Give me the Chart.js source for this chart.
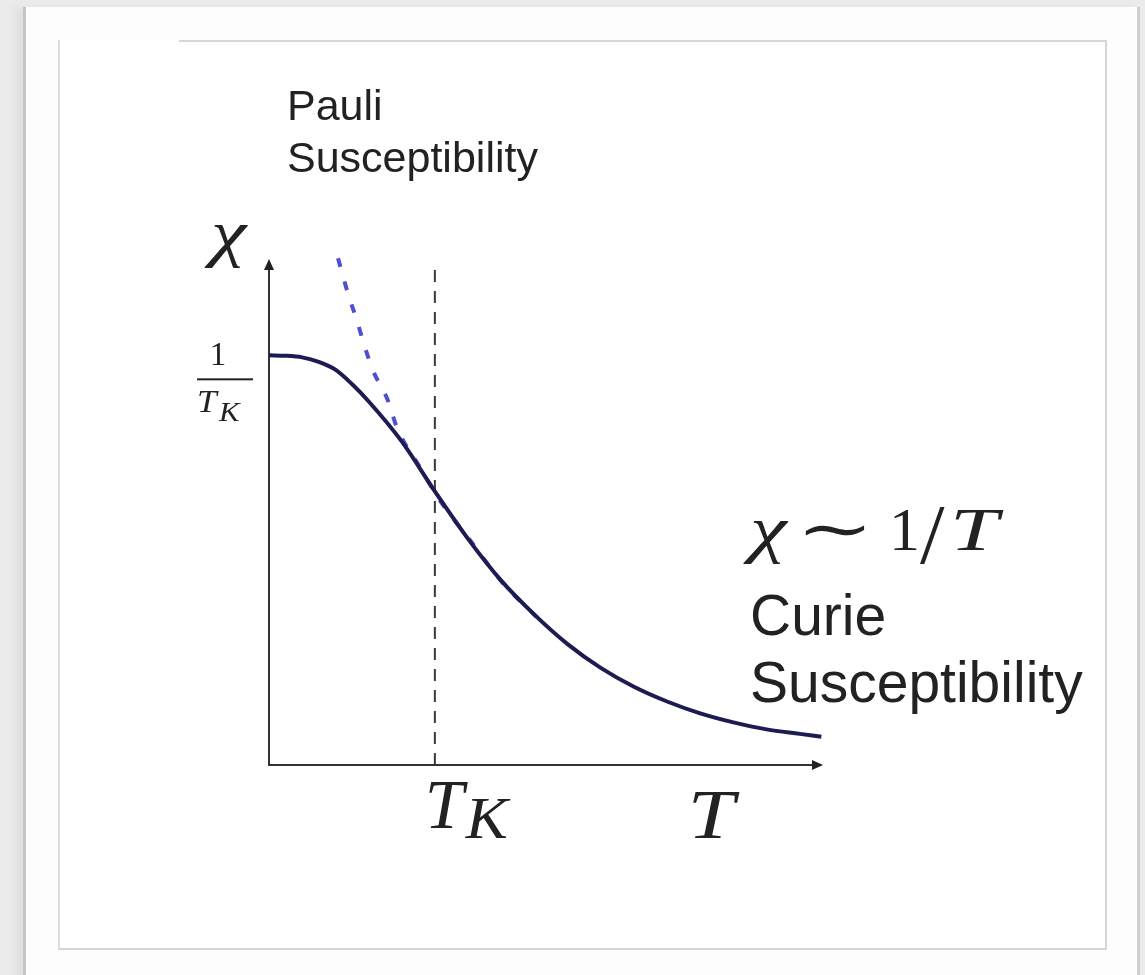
<!DOCTYPE html>
<html>
<head>
<meta charset="utf-8">
<title>Kondo susceptibility</title>
<script src="https://cdn.jsdelivr.net/npm/chart.js@4.4.0/dist/chart.umd.min.js"></script>
<style>
  html, body { margin: 0; padding: 0; }
  body { width: 1145px; height: 975px; background: #ebebeb; position: relative; overflow: hidden; }
  .panel {
    position: absolute; left: 23px; top: 7px; width: 1111px; height: 980px;
    background: #fdfdfd;
    border-left: 3px solid #c6c6c6; border-right: 3px solid #cfcfcf;
    box-shadow: -8px 0 8px rgba(0,0,0,0.05);
  }
  .card {
    position: absolute; left: 58px; top: 40px; width: 1045px; height: 908px;
    background: #fff;
    border-left: 2px solid #dcdcdc; border-right: 2px solid #d6d6d6; border-bottom: 2px solid #d6d6d6;
  }
  .card::before {
    content: ""; position: absolute; left: 119px; right: -2px; top: 0; height: 2px; background: #d6d6d6;
  }
  #chart { position: absolute; left: 0; top: 0; }
</style>
</head>
<body>
<div class="panel"></div>
<div class="card"></div>
<canvas id="chart" width="1145" height="975"></canvas>
<script>
// T measured in units of T_K, chi in units of 1/T_K
const tValues   = [0, 0.1, 0.2, 0.3, 0.4, 0.5, 0.6, 0.8, 1.0, 1.2, 1.4, 1.6, 1.8, 2.0, 2.2, 2.4, 2.6, 2.8, 3.0, 3.2, 3.33];
const chiValues = [1.0, 0.999, 0.995, 0.984, 0.965, 0.93, 0.888, 0.79, 0.668, 0.552, 0.45, 0.367, 0.295, 0.237, 0.191, 0.155, 0.126, 0.104, 0.087, 0.076, 0.069];

// high-T Curie tail continued down towards T_K
const curieT   = [0.416, 0.476, 0.53, 0.578, 0.627, 0.717, 0.771, 0.91, 1.03, 1.211, 1.41, 1.614];
const curieChi = [1.237, 1.151, 1.085, 1.02, 0.963, 0.89, 0.824, 0.727, 0.646, 0.549, 0.444, 0.361];

const tK = 1;
const tMax = 3.34;
const chiMax = 1.24;

const toPoints = (xs, ys) => xs.map((x, i) => ({ x: x, y: ys[i] }));

const SERIF = '"Liberation Serif", "DejaVu Serif", serif';
const SANS = '"Liberation Sans", Arial, sans-serif';

// text stretched horizontally by sx (math glyphs are wider than Times)
function mathText(ctx, str, x, y, font, sx) {
  ctx.save();
  ctx.font = font;
  ctx.translate(x, y);
  ctx.scale(sx || 1, 1);
  ctx.fillText(str, 0, 0);
  ctx.restore();
}

function arrow(ctx, x, y, dir) {
  ctx.beginPath();
  if (dir === 'up') {
    ctx.moveTo(x, y); ctx.lineTo(x - 5, y + 11); ctx.lineTo(x + 5, y + 11);
  } else {
    ctx.moveTo(x, y); ctx.lineTo(x - 11, y - 5); ctx.lineTo(x - 11, y + 5);
  }
  ctx.closePath();
  ctx.fill();
}

// axes with arrow heads, drawn from the scales
const axesPlugin = {
  id: 'sketchAxes',
  beforeDatasetsDraw(chart) {
    const { ctx, scales: { x, y } } = chart;
    const x0 = x.getPixelForValue(0), y0 = y.getPixelForValue(0);
    const xEnd = x.getPixelForValue(tMax), yEnd = y.getPixelForValue(chiMax);
    ctx.save();
    ctx.strokeStyle = '#333';
    ctx.fillStyle = '#222';
    ctx.lineWidth = 2;
    ctx.beginPath();
    ctx.moveTo(x0, y0 + 1); ctx.lineTo(x0, yEnd + 6);
    ctx.moveTo(x0 - 1, y0); ctx.lineTo(xEnd - 6, y0);
    ctx.stroke();
    arrow(ctx, x0, yEnd + 2, 'up');
    arrow(ctx, xEnd, y0, 'right');
    ctx.restore();
  }
};

// math and text labels
const labelPlugin = {
  id: 'sketchLabels',
  afterDraw(chart) {
    const { ctx, scales: { x, y } } = chart;
    const x0 = x.getPixelForValue(0), y0 = y.getPixelForValue(0);
    const xK = x.getPixelForValue(tK);
    const yOne = y.getPixelForValue(1);
    ctx.save();
    ctx.fillStyle = '#222';
    ctx.textBaseline = 'alphabetic';
    ctx.textAlign = 'left';

    // chi axis label
    mathText(ctx, 'χ', x0 - 58, yOne - 101, 'italic 64px ' + SERIF, 1.25);

    // 1 / T_K on the chi axis
    ctx.font = '33px ' + SERIF;
    ctx.textAlign = 'center';
    ctx.fillText('1', x0 - 51, yOne + 10);
    ctx.fillRect(x0 - 72, yOne + 23, 56, 2);
    ctx.textAlign = 'left';
    mathText(ctx, 'T', x0 - 72, yOne + 57, 'italic 32px ' + SERIF, 1.1);
    mathText(ctx, 'K', x0 - 50, yOne + 66, 'italic 28px ' + SERIF, 1.1);

    // T_K and T under the horizontal axis
    mathText(ctx, 'T', xK - 10, y0 + 63, 'italic 70px ' + SERIF, 1);
    mathText(ctx, 'K', xK + 31, y0 + 73, 'italic 60px ' + SERIF, 1.05);
    mathText(ctx, 'T', xK + 253, y0 + 73, 'italic 70px ' + SERIF, 1.2);

    // Pauli label, top left
    ctx.font = '43px ' + SANS;
    ctx.fillText('Pauli', 287, 120);
    ctx.fillText('Susceptibility', 287, 172);

    // Curie law label, right
    mathText(ctx, 'χ', 750, 550, 'italic 64px ' + SERIF, 1.3);
    mathText(ctx, '∼', 796, 550, '62px "DejaVu Serif", serif', 1.5);
    mathText(ctx, '1', 889, 550, '62px ' + SERIF, 1);
    mathText(ctx, '/', 920, 563, '84px ' + SERIF, 1.05);
    mathText(ctx, 'T', 950, 550, 'italic 62px ' + SERIF, 1.4);

    ctx.font = '57px ' + SANS;
    ctx.fillText('Curie', 750, 635);
    ctx.fillText('Susceptibility', 750, 702);
    ctx.restore();
  }
};

new Chart(document.getElementById('chart'), {
  type: 'scatter',
  data: {
    datasets: [
      {
        label: 'chi(T)',
        data: toPoints(tValues, chiValues),
        showLine: true,
        borderColor: '#1d1b52',
        borderWidth: 4,
        pointRadius: 0,
        cubicInterpolationMode: 'monotone',
        order: 0
      },
      {
        label: 'Curie 1/T',
        data: toPoints(curieT, curieChi),
        showLine: true,
        borderColor: '#4f4fd2',
        borderWidth: 4,
        borderDash: [9, 15],
        pointRadius: 0,
        cubicInterpolationMode: 'monotone',
        order: 1
      },
      {
        label: 'T_K',
        data: [{ x: tK, y: 0 }, { x: tK, y: 1.227 }],
        showLine: true,
        borderColor: '#3a3a3a',
        borderWidth: 2,
        borderDash: [12, 9],
        pointRadius: 0,
        order: 2
      }
    ]
  },
  options: {
    responsive: false,
    animation: false,
    events: [],
    layout: { padding: { left: 269, right: 322, top: 257, bottom: 210 } },
    plugins: { legend: { display: false }, tooltip: { enabled: false } },
    scales: {
      x: { type: 'linear', min: 0, max: tMax, display: false },
      y: { type: 'linear', min: 0, max: chiMax, display: false }
    }
  },
  plugins: [axesPlugin, labelPlugin]
});
</script>
</body>
</html>
